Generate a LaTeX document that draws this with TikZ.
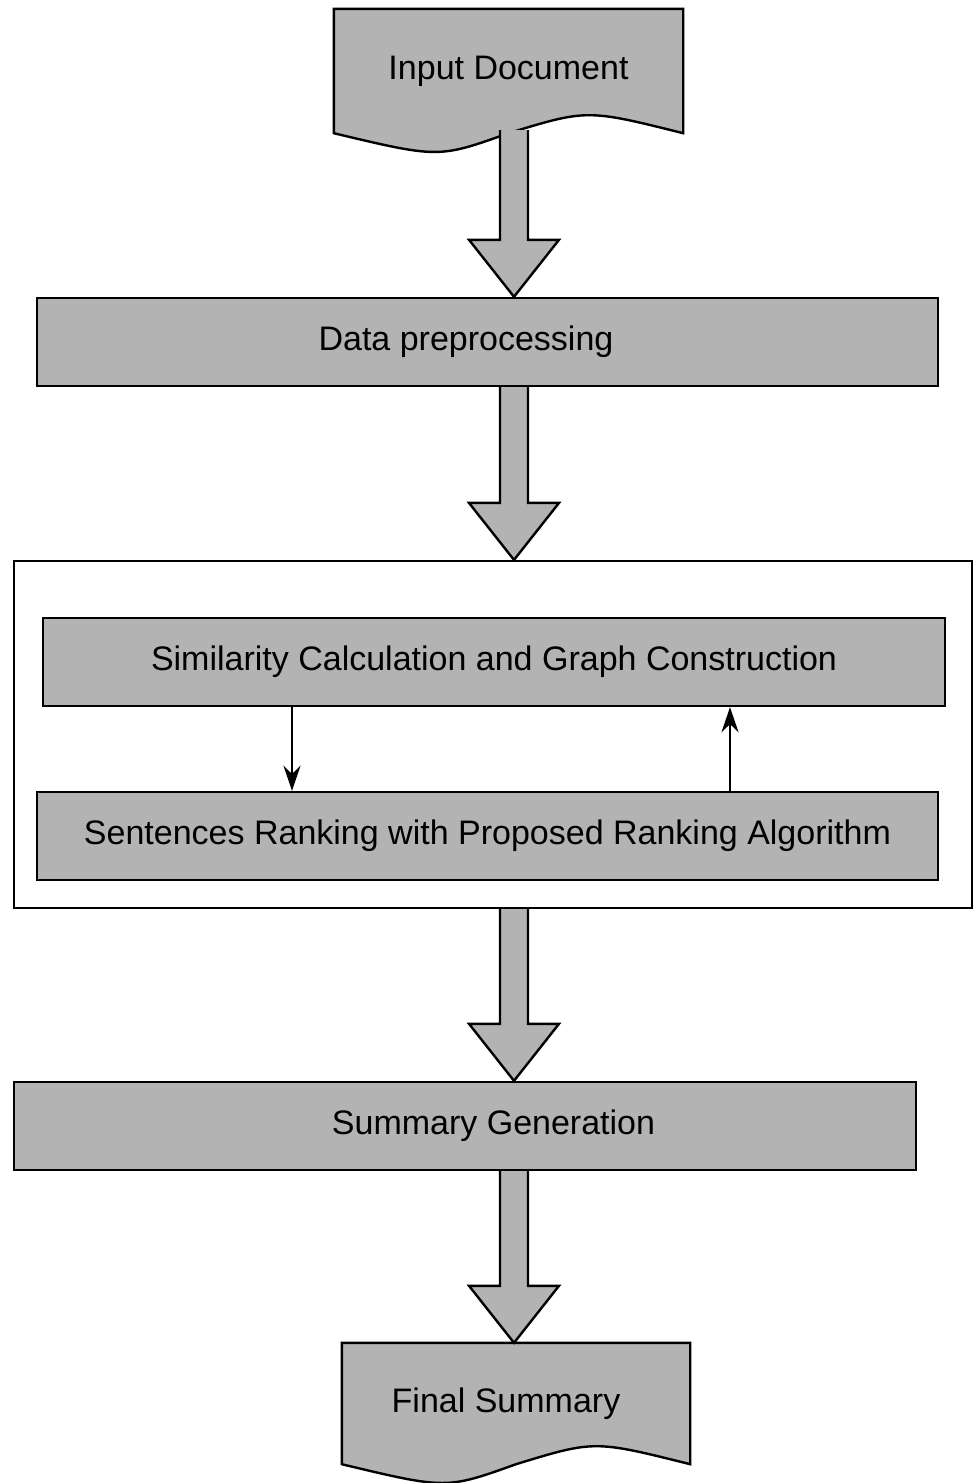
\documentclass[tikz,border=0pt]{standalone}
\usepackage{fontspec}
\setmainfont{Liberation Sans}
\usepackage{tikz}
\usetikzlibrary{arrows.meta, calc, backgrounds}
\definecolor{flowgray}{HTML}{B3B3B3}

% document shape: flat top, wavy bottom
\newcommand{\docwave}[1]{%
  \filldraw[docline] (#1.north west) -- (#1.north east) -- (#1.south east)
    .. controls ($(#1.south)!0.45!(#1.south east)+(0,-24)$) .. (#1.south)
    .. controls ($(#1.south west)!0.6!(#1.south)+(0,25)$) .. (#1.south west) -- cycle;}
% wide block arrow between two points
\newcommand{\bigarrow}[2]{%
  \filldraw[blockarr] ($(#1)+(-14,0)$) -- ($(#2)+(-14,-57)$) -- ($(#2)+(-45,-57)$)
    -- (#2) -- ($(#2)+(45,-57)$) -- ($(#2)+(14,-57)$) -- ($(#1)+(14,0)$);}

\begin{document}
\begin{tikzpicture}[
  x=1pt, y=-1pt,
  every node/.style={font=\fontsize{34}{40}\selectfont},
  box/.style={draw, line width=2.4pt, fill=flowgray,
              minimum width=901pt, minimum height=88pt, inner sep=0pt},
  doc/.style={inner sep=0pt, minimum width=349pt, minimum height=124pt},
  docline/.style={line width=2.4pt, fill=flowgray},
  frame/.style={draw, line width=2.2pt, fill=white, inner sep=0pt,
                minimum width=958pt, minimum height=347pt},
  blockarr/.style={line width=2.4pt, fill=flowgray, line join=miter},
  arr/.style={-{Stealth[length=25pt, width=17pt]}, line width=2.4pt}
]
  \useasboundingbox (0,0) rectangle (975,1483);

  % - Hang tren: input + preprocessing -
  \node[doc] (input) at (508.5,71) {Input Document};
  \node[box] (prep)  at (487.5,342) {Data preprocessing\hspace*{43pt}};

  % - Khung giua: graph + ranking -
  \node[frame] (core) at (493,734.5) {};
  \node[box, minimum width=902pt] (sim)  at (494,662)   {Similarity Calculation and Graph Construction};
  \node[box] (rank) at (487.5,836) {Sentences Ranking with Proposed Ranking Algorithm};

  % - Hang duoi: summary -
  \node[box, minimum width=902pt] (summ) at (465,1126) {\hspace*{57pt}Summary Generation};
  \node[doc, minimum width=348pt, minimum height=121pt] (final) at (516,1403.5) {Final Summary\hspace*{20pt}};

  \begin{scope}[on background layer]
    \docwave{input}
    \docwave{final}
  \end{scope}

  % - Mui ten -
  \coordinate (ax) at (514,0);
  \coordinate (lx) at (292,0);
  \coordinate (rx) at (730,0);
  \coordinate (a1) at ($(input.south -| ax)+(0,-3)$);
  \coordinate (b1) at (prep.north -| ax);
  \coordinate (a2) at (prep.south -| ax);
  \coordinate (b2) at (core.north -| ax);
  \coordinate (a3) at (core.south -| ax);
  \coordinate (b3) at (summ.north -| ax);
  \coordinate (a4) at (summ.south -| ax);
  \coordinate (b4) at (final.north -| ax);
  \bigarrow{a1}{b1}
  \bigarrow{a2}{b2}
  \bigarrow{a3}{b3}
  \bigarrow{a4}{b4}

  \draw[arr] (sim.south -| lx) -- (rank.north -| lx);
  \draw[arr] (rank.north -| rx) -- (sim.south -| rx);
\end{tikzpicture}
\end{document}
